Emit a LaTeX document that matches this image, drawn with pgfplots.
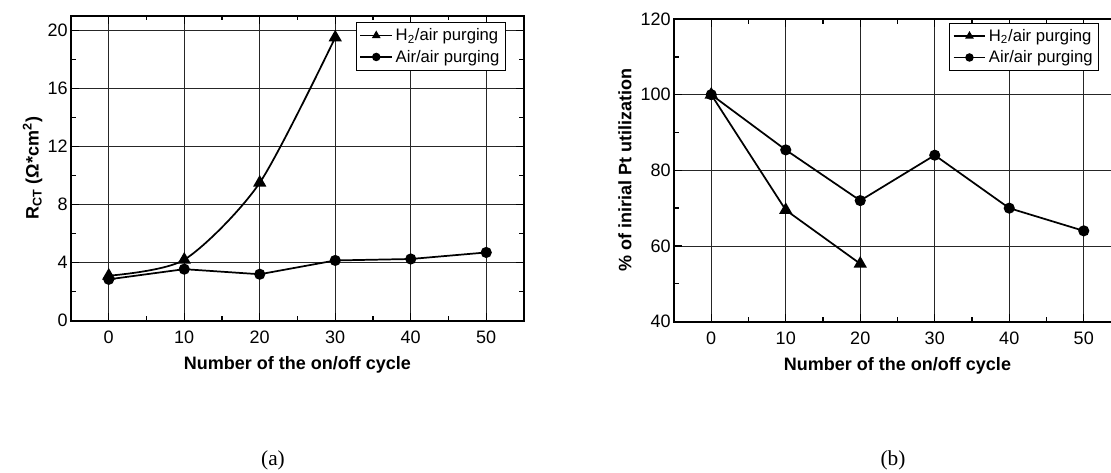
\documentclass[border=0pt]{standalone}
\usepackage{pgfplots}
\pgfplotsset{compat=1.18}
\usepackage{fontspec}
\setmainfont{Liberation Sans}
\newfontfamily\seriffont{Liberation Serif}
\begin{document}
\begin{tikzpicture}
\pgfplotsset{
  myax/.style={
    scale only axis,
    xmin=-5, xmax=55,
    xtick={0,10,...,50},
    minor x tick num=1,
    minor y tick num=1,
    tick align=inside,
    xtick pos=both, ytick pos=both,
    major tick length=6pt,
    minor tick length=3.5pt,
    every tick/.style={black, line width=1pt},
    axis line style={line width=1.6pt},
    grid=major,
    major grid style={black!85, line width=0.6pt},
    every tick label/.append style={font=\fontsize{13.5}{15}\selectfont},
    xticklabel style={yshift=-4pt},
    yticklabel style={xshift=1pt},
    /pgf/number format/assume math mode=true,
    xlabel={\bfseries Number of the on/off cycle},
    xlabel style={yshift=-3pt},
    label style={font=\fontsize{13.5}{15}\selectfont\bfseries},
    legend style={font=\fontsize{12.5}{14}\selectfont, draw=black, line width=0.6pt,
      inner sep=2.5pt, row sep=1.5pt, cells={anchor=west}},
    legend image code/.code={\draw[#1, mark repeat=2, mark phase=2] plot coordinates {(0cm,0cm) (0.42cm,0cm) (0.84cm,0cm)};},
    legend image post style={mark size=2.5pt},
    every axis plot/.append style={black, line width=1.3pt},
  }
}
\begin{axis}[myax, at={(53.25pt,114.2pt)}, anchor=south west,
  width=339.75pt, height=228.75pt,
  ymin=0, ymax=21, ytick={0,4,...,20},
  ylabel={R\textsubscript{CT} (Ω*cm\textsuperscript{2})},
  ylabel style={yshift=-3pt},
  legend style={at={(0.960,0.979)}, anchor=north east}]
\addplot[mark=triangle*, mark size=4.5pt, smooth, tension=0.45] coordinates {(0,3.1) (10,4.2) (20,9.5) (30,19.5)};
\addlegendentry{H\textsubscript{2}/air purging}
\addplot[mark=*, mark size=3.5pt] coordinates {(0,2.85) (10,3.55) (20,3.2) (30,4.15) (40,4.25) (50,4.7)};
\addlegendentry{Air/air purging}
\end{axis}
\begin{axis}[myax, at={(505.5pt,113.5pt)}, anchor=south west,
  width=335.25pt, height=227pt,
  ymin=40, ymax=120, ytick={40,60,...,120},
  ylabel={\% of inirial Pt utilization},
  legend style={at={(0.951,0.988)}, anchor=north east}]
\addplot[mark=triangle*, mark size=4.5pt] coordinates {(0,100) (10,69.5) (20,55.3)};
\addlegendentry{H\textsubscript{2}/air purging}
\addplot[mark=*, mark size=3.5pt] coordinates {(0,100) (10,85.4) (20,72) (30,84) (40,70) (50,64)};
\addlegendentry{Air/air purging}
\end{axis}
\node[font=\seriffont\fontsize{16}{17}\selectfont] at (204.75pt,9.75pt) {(a)};
\node[font=\seriffont\fontsize{16}{17}\selectfont] at (669.75pt,9.75pt) {(b)};
\pgfresetboundingbox
\path[use as bounding box] (0pt,0pt) rectangle (833.25pt,354.75pt);
\end{tikzpicture}
\end{document}
